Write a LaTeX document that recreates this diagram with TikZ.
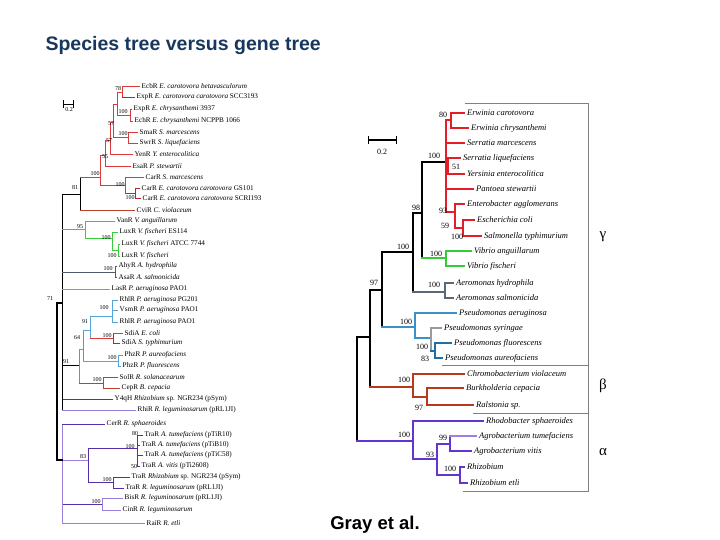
\documentclass[tikz,border=0pt]{standalone}
\usepackage{fontspec}
\setmainfont{Liberation Serif}
\newfontfamily\headfont{Liberation Sans}
\usetikzlibrary{positioning}

\definecolor{titleblue}{RGB}{23,55,94}
\definecolor{lred}{HTML}{D93A3A}
\definecolor{ldred}{HTML}{B8242A}
\definecolor{lbrown}{HTML}{B5452A}
\definecolor{lgreen}{HTML}{3ACC3A}
\definecolor{lslate}{HTML}{505A6A}
\definecolor{lblue}{HTML}{55A5D8}
\definecolor{lgray}{HTML}{8A8A8A}
\definecolor{lpurple}{HTML}{5530A8}
\definecolor{llpurple}{HTML}{9A80DD}
\definecolor{rred}{HTML}{E41E26}
\definecolor{rgreen}{HTML}{33CC33}
\definecolor{rslate}{HTML}{5A6878}
\definecolor{rblue}{HTML}{3A90C8}
\definecolor{rdblue}{HTML}{1F6FA5}
\definecolor{rgray}{HTML}{9A9A9A}
\definecolor{rbrown}{HTML}{B83A1E}
\definecolor{rpurple}{HTML}{6434D0}
\definecolor{rlpurple}{HTML}{9B80E8}

\begin{document}
\begin{tikzpicture}[x=1pt,y=-1pt,
	leaf/.style={anchor=west,inner sep=1.5pt,font=\fontsize{7.2}{7.5}\selectfont},
	rleaf/.style={anchor=west,inner sep=3pt,font=\fontsize{8.5}{9}\selectfont\itshape},
	boot/.style={inner sep=0pt,font=\fontsize{6}{6}\selectfont},
	rboot/.style={inner sep=0pt,font=\fontsize{8}{8}\selectfont},
	lbranch/.style={line width=0.9pt,line cap=rect},
	rbranch/.style={line width=1.6pt,line cap=rect},
	boxline/.style={draw=gray,line width=0.8pt},
	greek/.style={inner sep=0pt,font=\fontsize{15}{15}\selectfont}]

	\useasboundingbox (0,0) rectangle (720,540);

	\node[anchor=west,text=titleblue,font=\headfont\bfseries\fontsize{19.5}{20}\selectfont] (title) at (42,46) {Species tree versus gene tree};
	\node[font=\headfont\bfseries\fontsize{18.5}{19}\selectfont] (cite) at (375,525) {Gray et al.};

	% gene tree
	\foreach \n/\x/\y in {lR/57/303, lU/62/303, l81/80/194, lE100/100/177, lD/105/155, lC/110/140,
		lB/113/122, lA/117/104, l78/122/92, l100ec/130/115, l100sm/128/137, lCar1/125/185, lCar2/135/193,
		l95/85/229, lLux1/112/238, lLux2/118/250, lAer/115/272, l91/79/365, l64/83/349, l91b/90/330,
		lRhl/112/316, lSdi/113/338, lPhz/118/361, lSol/103/383, lL/62/460, l83/88/460, lTra1/137/448,
		lTra2/113/482, lBis/102/504}
		\coordinate (\n) at (\x,\y);

	\foreach \n/\x/\y/\t in {bcl/140/86/EcbR \textit{E. carotovora betavasculorum},
		exr/135/97/ExpR \textit{E. carotovora carotovora} SCC3193,
		ecp/132/109/ExpR \textit{E. chrysanthemi} 3937,
		ech/133/121/EchR \textit{E. chrysanthemi} NCPPB 1066,
		sma/138/132/SmaR \textit{S. marcescens},
		swr/138/143/SwrR \textit{S. liquefaciens},
		yen/133/154/YenR \textit{Y. enterocolitica},
		esa/131/166/EsaR \textit{P. stewartii},
		car1/144/177/CarR \textit{S. marcescens},
		car2/140/188/CarR \textit{E. carotovora carotovora} GS101,
		car3/141/198/CarR \textit{E. carotovora carotovora} SCRI193,
		cvi/135/210/CviR \textit{C. violaceum},
		van/115/221/VanR \textit{V. anguillarum},
		lux1/118/232/LuxR \textit{V. fischeri} ES114,
		lux2/120/244/LuxR \textit{V. fischeri} ATCC 7744,
		lux3/120/256/LuxR \textit{V. fischeri},
		ahy/117/266/AhyR \textit{A. hydrophila},
		asa/117/277/AsaR \textit{A. salmonicida},
		las/110/289/LasR \textit{P. aeruginosa} PAO1,
		rhl1/118/300/RhlR \textit{P. aeruginosa} PG201,
		vsm/118/310/VsmR \textit{P. aeruginosa} PAO1,
		rhl2/118/322/RhlR \textit{P. aeruginosa} PAO1,
		sdi1/123/333/SdiA \textit{E. coli},
		sdi2/120/343/SdiA \textit{S. typhimurium},
		phz1/123/355/PhzR \textit{P. aureofaciens},
		phz2/121/366/PhzR \textit{P. fluorescens},
		sol/118/377/SolR \textit{R. solanacearum},
		cep/120/388/CepR \textit{B. cepacia},
		ytq/113/399/Y4qH \textit{Rhizobium} sp. NGR234 (pSym),
		rhi/136/410/RhiR \textit{R. leguminosarum} (pRL1JI),
		cer/105/424/CerR \textit{R. sphaeroides},
		tra1/143/435/TraR \textit{A. tumefaciens} (pTiR10),
		tra2/140/445/TraR \textit{A. tumefaciens} (pTiB10),
		tra3/143/455/TraR \textit{A. tumefaciens} (pTiC58),
		tra4/140/466/TraR \textit{A. vitis} (pTi2608),
		tra5/130/477/TraR \textit{Rhizobium} sp. NGR234 (pSym),
		tra6/124/488/TraR \textit{R. leguminosarum} (pRL1JI),
		bis/123/498/BisR \textit{R. leguminosarum} (pRL1JI),
		cin/121/510/CinR \textit{R. leguminosarum},
		rai/145/523/RaiR \textit{R. etli}}
		\node[leaf] (\n) at (\x,\y) {\t};

	\foreach \p/\c/\pc/\cc in {
		lU/l81/black/black, l81/lE100/black/lred, l81/cvi.west/black/lbrown,
		lE100/lD/lred/lred, lE100/lCar1/lred/lred, lD/lC/lred/lred, lD/esa.west/lred/lred,
		lC/lB/lred/lred, lC/yen.west/lred/lred, lB/lA/lred/lred, lB/l100sm/lred/lred,
		lA/l78/lred/lred, lA/l100ec/lred/lred, l78/bcl.west/lred/lred, l78/exr.west/lred/ldred,
		l100ec/ecp.west/lred/lred, l100ec/ech.west/lred/lred, l100sm/sma.west/lred/lred,
		l100sm/swr.west/lred/lred, lCar1/car1.west/lred/lred, lCar1/lCar2/lred/ldred,
		lCar2/car2.west/ldred/ldred, lCar2/car3.west/ldred/ldred,
		lU/l95/black/lgreen, l95/van.west/lgreen/lgreen, l95/lLux1/lgreen/lgreen,
		lLux1/lux1.west/lgreen/lgreen, lLux1/lLux2/lgreen/lgreen,
		lLux2/lux2.west/lgreen/lgreen, lLux2/lux3.west/lgreen/lgreen,
		lU/lAer/black/lslate, lAer/ahy.west/lslate/lslate, lAer/asa.west/lslate/lslate,
		lU/las.west/black/lblue, lU/l91/black/black,
		l91/l64/lgray/lgray, l91/lSol/lgray/lbrown, l64/l91b/lgray/lblue, l64/lPhz/lgray/lblue,
		l91b/lRhl/lblue/lblue, l91b/lSdi/lblue/lred,
		lRhl/rhl1.west/lblue/lblue, lRhl/vsm.west/lblue/lblue, lRhl/rhl2.west/lblue/lblue,
		lSdi/sdi1.west/ldred/lred, lSdi/sdi2.west/ldred/ldred,
		lPhz/phz1.west/lblue/lblue, lPhz/phz2.west/lblue/lblue,
		lSol/sol.west/lbrown/lbrown, lSol/cep.west/lbrown/lbrown,
		lU/ytq.west/black/lpurple, lU/rhi.west/black/llpurple,
		lL/cer.west/llpurple/lpurple, lL/l83/llpurple/llpurple, lL/lBis/llpurple/lpurple,
		lL/rai.west/llpurple/llpurple, l83/lTra1/lpurple/lpurple, l83/lTra2/lpurple/lpurple,
		lTra1/tra1.west/lpurple/lpurple, lTra1/tra2.west/lpurple/lpurple,
		lTra1/tra3.west/lpurple/lpurple, lTra1/tra4.west/lpurple/lpurple,
		lTra2/tra5.west/lpurple/lpurple, lTra2/tra6.west/lpurple/lpurple,
		lBis/bis.west/llpurple/llpurple, lBis/cin.west/llpurple/llpurple}{
		\draw[lbranch,\pc] (\p) -- (\p |- \c);
		\draw[lbranch,\cc] (\p |- \c) -- (\c);
	}
	\draw[lbranch,line width=1.5pt] (lU) -- (lR) -- (lR |- lL) -- (lL);

	\foreach \x/\y/\t [count=\i] in {118/89/78, 123/112/100, 111/124/57, 123/134/100, 109/141/57,
		105/157/55, 95/174/100, 120/185/100, 130/198/100, 75/188/81, 80/227/95, 106/238/100,
		112/256/100, 108/269/100, 50/299/71, 104/308/100, 85/322/91, 77/338/64, 107/336/100,
		112/358/100, 66/362/91, 97/380/100, 135/434/80, 130/447/100, 83/457/83, 134/467/50,
		107/480/100, 96/502/100}
		\node[boot] (lb\i) at (\x,\y) {\t};

	\coordinate (lsa) at (63,104);
	\coordinate (lsb) at (74,104);
	\draw[line width=0.9pt,|-|] (lsa) -- (lsb);
	\node[boot] (lscale) at (69,110) {0.2};

	% species tree
	\foreach \n/\x/\y in {r0/357/337, r97/370/337, r100a/382/290, r100b/413/252, r98/422/213,
		rEnt/446/162, r80/451/120, r51/448/166, r93/455/212, r59/463/228, rVib/446/258,
		rAer/445/292, rPse/415/327, rPs2/431/338, rPs3/435/351, rBet/413/387, rBet2/427/397,
		rAlp/413/441, rA93/437/459, rA99/450/444, rA100/460/475}
		\coordinate (\n) at (\x,\y);

	\foreach \n/\x/\y/\t in {eca/464/113/Erwinia carotovora, ech/468/128/Erwinia chrysanthemi,
		sma/464/143/Serratia marcescens, sli/460/158/Serratia liquefaciens,
		yen/464/174/Yersinia enterocolitica, pan/473/189/Pantoea stewartii,
		ent/464/204/Enterobacter agglomerans, eco/474/220/Escherichia coli,
		sal/481/236/Salmonella typhimurium, van/471/251/Vibrio anguillarum,
		vfi/464/266/Vibrio fischeri, ahy/453/283/Aeromonas hydrophila,
		asa/453/298/Aeromonas salmonicida, pae/456/313/Pseudomonas aeruginosa,
		psy/441/328/Pseudomonas syringae, pfl/451/343/Pseudomonas fluorescens,
		pau/442/358/Pseudomonas aureofaciens, cvi/464/374/Chromobacterium violaceum,
		bce/463/388/Burkholderia cepacia, ral/473/405/Ralstonia sp.,
		rsp/483/421/Rhodobacter sphaeroides, atu/476/436/Agrobacterium tumefaciens,
		avi/471/451/Agrobacterium vitis, rhz/464/467/Rhizobium, ret/467/483/Rhizobium etli}
		\node[rleaf] (s\n) at (\x,\y) {\t};

	\foreach \p/\c/\pc/\cc in {r0/r97/black/black, r0/rAlp/black/rpurple, r97/r100a/black/black,
		r97/rBet/black/rbrown, r100a/r100b/black/black, r100a/rPse/black/rblue,
		r100b/r98/black/black, r100b/rAer/black/rslate, r98/rEnt/black/black, r98/rVib/black/rgreen,
		rEnt/r80/rred/rred, rEnt/ssma.west/rred/rred, rEnt/r51/rred/rred, rEnt/span.west/rred/rred,
		rEnt/r93/rred/rred, r80/seca.west/rred/rred, r80/sech.west/rred/rred,
		r51/ssli.west/rred/rred, r51/syen.west/rred/rred, r93/sent.west/rred/rred, r93/r59/rred/rred,
		r59/seco.west/rred/rred, r59/ssal.west/rred/rred,
		rVib/svan.west/rgreen/rgreen, rVib/svfi.west/rgreen/rgreen,
		rAer/sahy.west/rslate/rslate, rAer/sasa.west/rslate/rslate,
		rPse/spae.west/rblue/rblue, rPse/rPs2/rblue/rblue, rPs2/spsy.west/rgray/rgray,
		rPs2/rPs3/rgray/rdblue, rPs3/spfl.west/rdblue/rdblue, rPs3/spau.west/rdblue/rdblue,
		rBet/scvi.west/rbrown/rbrown, rBet/rBet2/rbrown/rbrown,
		rBet2/sbce.west/rbrown/rbrown, rBet2/sral.west/rbrown/rbrown,
		rAlp/srsp.west/rpurple/rpurple, rAlp/rA93/rpurple/rpurple, rA93/rA99/rpurple/rpurple,
		rA93/rA100/rpurple/rpurple, rA99/satu.west/rpurple/rlpurple, rA99/savi.west/rpurple/rpurple,
		rA100/srhz.west/rpurple/rpurple, rA100/sret.west/rpurple/rpurple}{
		\draw[rbranch,\pc] (\p) -- (\p |- \c);
		\draw[rbranch,\cc] (\p |- \c) -- (\c);
	}

	\foreach \x/\y/\t [count=\i] in {443/115/80, 434/156/100, 456/167/51, 443/211/93, 445/226/59,
		457/237/100, 416/208/98, 436/254/100, 403/247/100, 434/285/100, 374/283/97, 406/322/100,
		422/347/100, 425/359/83, 404/380/100, 419/408/97, 404/435/100, 443/438/99, 430/455/93,
		450/469/100}
		\node[rboot] (rb\i) at (\x,\y) {\t};

	\coordinate (rsa) at (368,140);
	\coordinate (rsb) at (397,140);
	\draw[line width=1.2pt,|-|] (rsa) -- (rsb);
	\node[rboot] (rscale) at (382,152) {0.2};

	\draw[boxline] (465,103) -| (588,491) -- (463,491);
	\draw[boxline] (442,365) -- (588,365);
	\draw[boxline] (473,413) -- (588,413);

	\node[greek] (gamma) at (603,237) {γ};
	\node[greek] (beta) at (603,386) {β};
	\node[greek] (alpha) at (603,452) {α};

\end{tikzpicture}
\end{document}
